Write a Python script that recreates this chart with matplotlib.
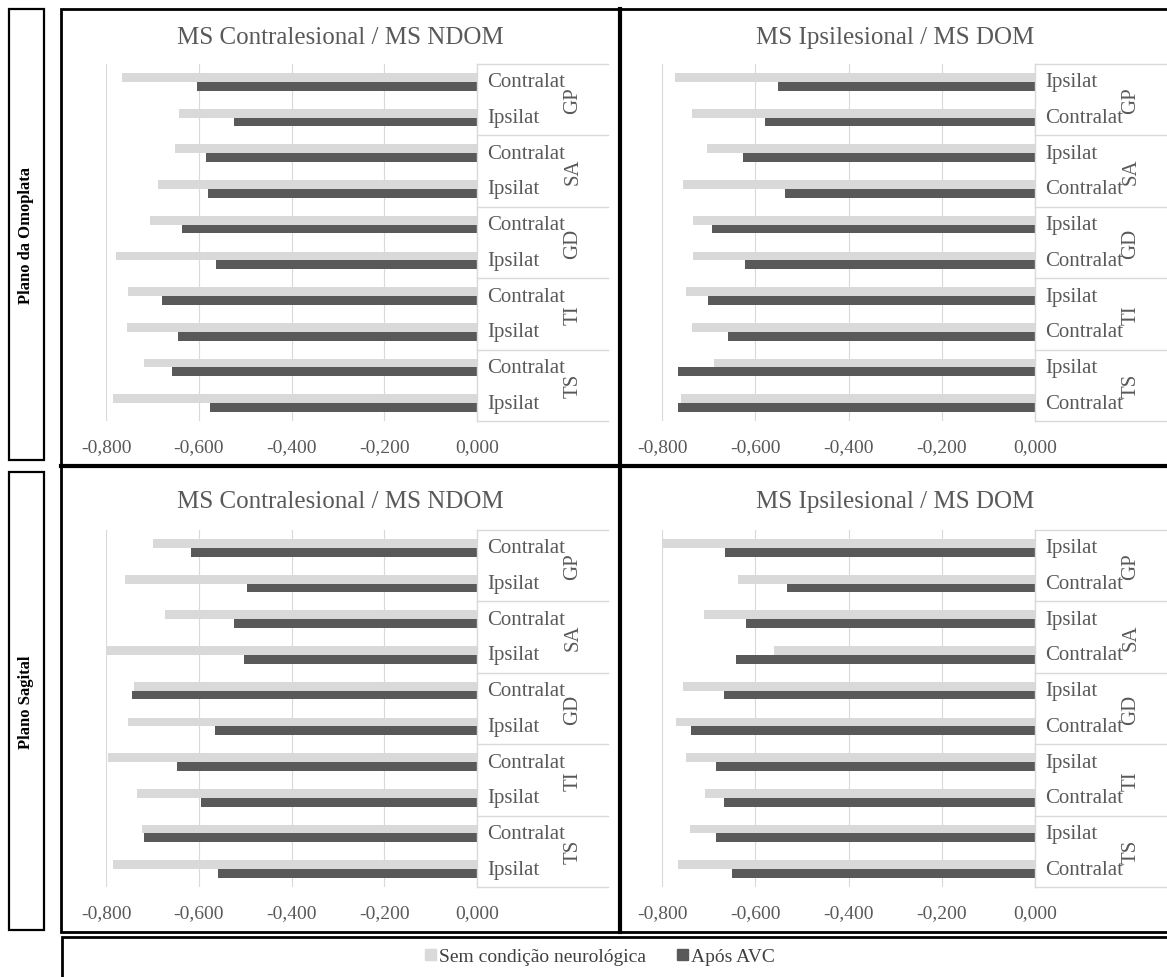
import matplotlib
matplotlib.use('Agg')
import matplotlib.pyplot as plt
from matplotlib.patches import Rectangle, Patch

plt.rcParams['font.family'] = ['Liberation Serif', 'DejaVu Serif']

W, H = 1167, 978

groups = ['GP', 'SA', 'GD', 'TI', 'TS']
sides_contra = ['Contralat', 'Ipsilat']
sides_ipsi = ['Ipsilat', 'Contralat']
ticks = [-0.8, -0.6, -0.4, -0.2, 0.0]
tick_labels = ['-0,800', '-0,600', '-0,400', '-0,200', '0,000']
series_names = ['Sem condição neurológica', 'Após AVC']

# Plano da Omoplata
omo_contra_sem = [-0.766, -0.642, -0.651, -0.688, -0.705, -0.778, -0.752, -0.755, -0.718, -0.785]
omo_contra_avc = [-0.604, -0.523, -0.584, -0.579, -0.636, -0.563, -0.680, -0.645, -0.657, -0.575]
omo_ipsi_sem = [-0.773, -0.736, -0.704, -0.756, -0.733, -0.733, -0.748, -0.736, -0.689, -0.760]
omo_ipsi_avc = [-0.552, -0.579, -0.626, -0.537, -0.693, -0.622, -0.701, -0.658, -0.766, -0.766]

# Plano Sagital
sag_contra_sem = [-0.698, -0.760, -0.673, -0.800, -0.740, -0.752, -0.796, -0.734, -0.722, -0.784]
sag_contra_avc = [-0.617, -0.497, -0.523, -0.503, -0.743, -0.564, -0.646, -0.596, -0.717, -0.558]
sag_ipsi_sem = [-0.800, -0.638, -0.710, -0.559, -0.754, -0.770, -0.749, -0.707, -0.740, -0.766]
sag_ipsi_avc = [-0.664, -0.532, -0.620, -0.641, -0.668, -0.737, -0.684, -0.667, -0.684, -0.649]

LIGHT = '#d9d9d9'
DARK = '#595959'
TXT = '#595959'

fig = plt.figure(figsize=(W / 100, H / 100), dpi=100)


def fx(px):
    return px / W


def fy(py):
    return 1 - py / H


def panel(x0, x1, y0, y1, title, title_x, title_y, sides, sem, avc):
    ax = fig.add_axes([fx(x0), fy(y1), fx(x1 - x0), (y1 - y0) / H])
    n = len(sem)
    pos = list(range(n))
    ax.barh([p - 0.123 for p in pos], sem, height=0.245, color=LIGHT, zorder=2)
    ax.barh([p + 0.123 for p in pos], avc, height=0.245, color=DARK, zorder=2)
    ax.set_xlim(-0.8, 0)
    ax.set_ylim(n - 0.5, -0.5)
    for s in ax.spines.values():
        s.set_visible(False)
    ax.set_yticks([])
    ax.set_xticks(ticks)
    ax.set_xticklabels(tick_labels, color=TXT, fontsize=14)
    ax.tick_params(axis='x', length=0, pad=12)
    for t in ticks:
        ax.axvline(t, color='#d9d9d9', lw=0.8, zorder=1)
    # category table on the right of the axis
    unit = (x1 - x0) / 0.8
    tw = 131 / unit
    lc = '#d9d9d9'
    ax.plot([0, 0], [-0.5, n - 0.5], color=lc, lw=1, clip_on=False, zorder=3)
    for k in range(len(groups) + 1):
        yy = -0.5 + 2 * k
        ax.plot([0, tw], [yy, yy], color=lc, lw=1, clip_on=False)
    for i in range(n):
        ax.text(10 / unit, i, sides[i % 2], fontsize=15, color=TXT,
                ha='left', va='center', clip_on=False)
    for g, name in enumerate(groups):
        ax.text(96 / unit, 2 * g + 0.5, name, fontsize=15, color=TXT, rotation=90,
                ha='center', va='center', clip_on=False)
    fig.text(fx(title_x), fy(title_y), title, fontsize=18, color=TXT,
             ha='center', va='center')
    return ax


panel(106, 477, 65, 422, 'MS Contralesional / MS NDOM', 340, 38,
      sides_contra, omo_contra_sem, omo_contra_avc)
panel(662, 1035, 65, 422, 'MS Ipsilesional / MS DOM', 895, 38,
      sides_ipsi, omo_ipsi_sem, omo_ipsi_avc)
panel(106, 477, 531, 888, 'MS Contralesional / MS NDOM', 340, 502,
      sides_contra, sag_contra_sem, sag_contra_avc)
panel(662, 1035, 531, 888, 'MS Ipsilesional / MS DOM', 895, 502,
      sides_ipsi, sag_ipsi_sem, sag_ipsi_avc)


def box(x0, y0, x1, y1, lw):
    fig.add_artist(Rectangle((fx(x0), fy(y1)), fx(x1 - x0), (y1 - y0) / H,
                             transform=fig.transFigure, fill=False,
                             edgecolor='black', lw=lw, clip_on=False))


# panel frames
box(61, 10, 620, 467, 2)
box(620, 10, 1170, 467, 2)
box(61, 467, 620, 933, 2)
box(620, 467, 1170, 933, 2)
fig.add_artist(plt.Line2D([fx(61), fx(1170)], [fy(467), fy(467)], color='black', lw=3,
                          transform=fig.transFigure))
fig.add_artist(plt.Line2D([fx(620), fx(620)], [fy(10), fy(933)], color='black', lw=3,
                          transform=fig.transFigure))
# legend frame
box(62, 938, 1170, 985, 2)
# side label boxes
box(9, 10, 44, 461, 1.6)
box(9, 473, 44, 931, 1.6)
fig.text(fx(26.5), fy(235), 'Plano da Omoplata', rotation=90, fontsize=12,
         fontweight='bold', ha='center', va='center', color='black')
fig.text(fx(26.5), fy(702), 'Plano Sagital', rotation=90, fontsize=12,
         fontweight='bold', ha='center', va='center', color='black')

handles = [Patch(color=LIGHT), Patch(color=DARK)]
fig.legend(handles, series_names, loc='center', bbox_to_anchor=(fx(600), fy(958)),
           ncol=2, frameon=False, fontsize=14, handlelength=0.55, handleheight=0.55,
           handletextpad=0.15, columnspacing=1.6, labelcolor='#404040')

fig.savefig('out.png', dpi=100)
